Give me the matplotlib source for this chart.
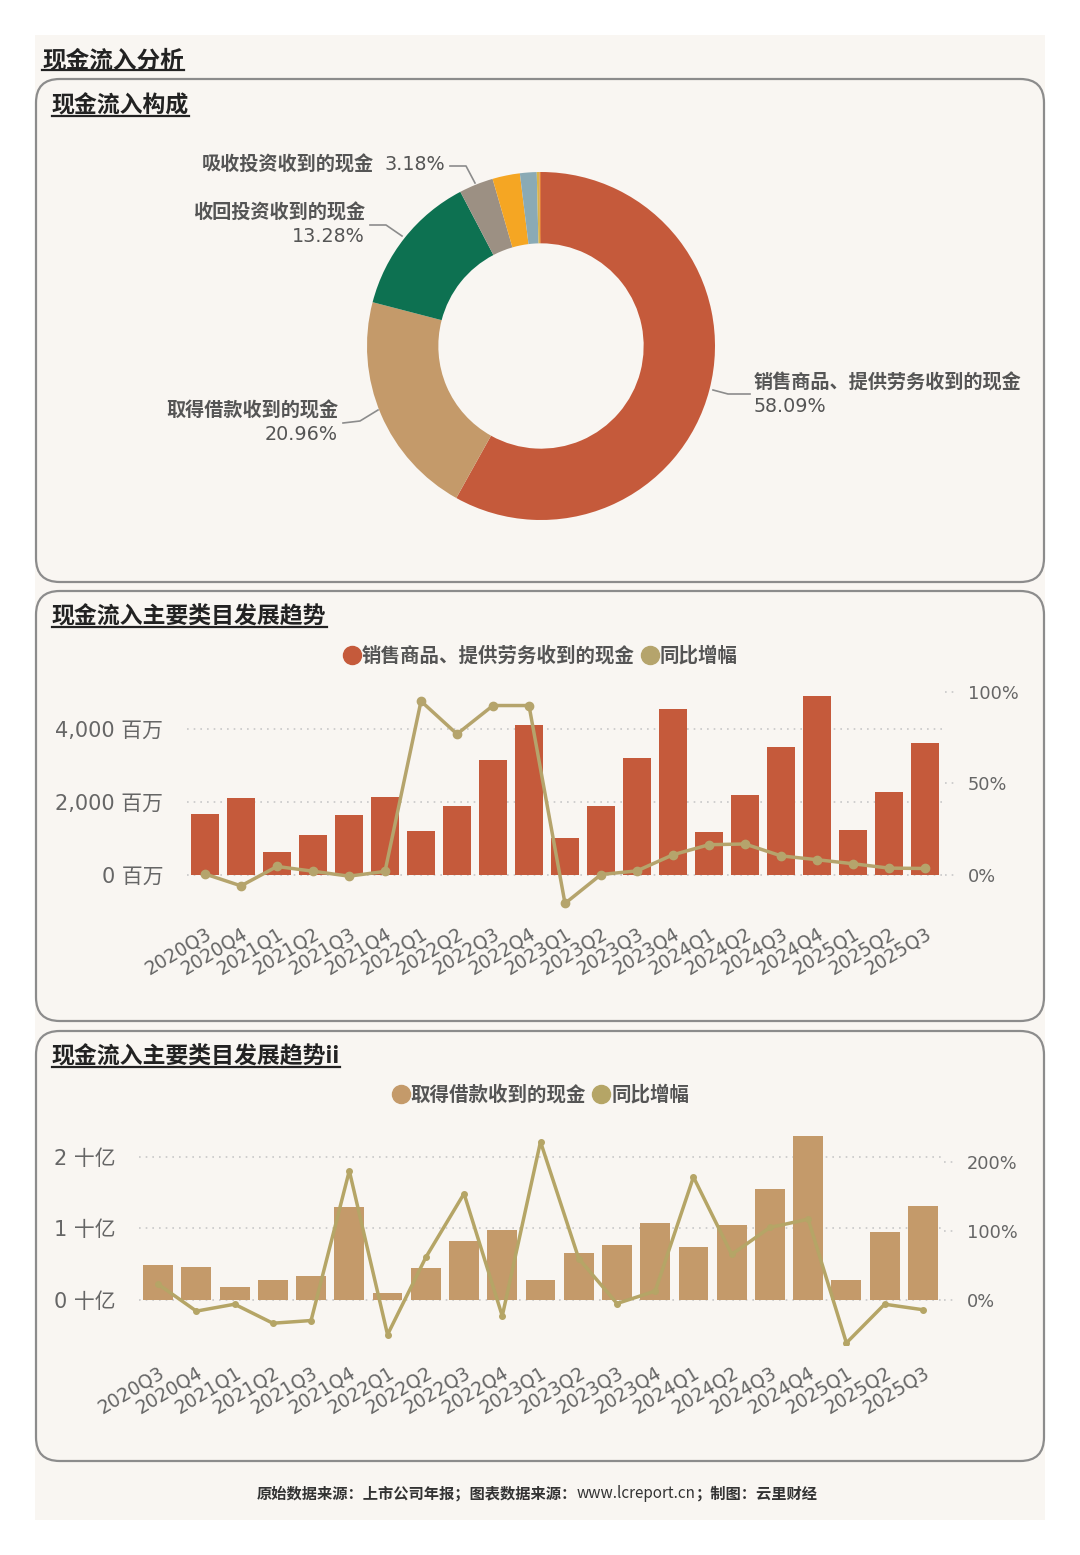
import matplotlib
matplotlib.use("Agg")
import matplotlib.pyplot as plt
import numpy as np
from matplotlib.patches import FancyBboxPatch, Rectangle
from matplotlib.lines import Line2D
from matplotlib.ticker import FuncFormatter

plt.rcParams['font.family'] = ['DejaVu Sans', 'Noto Sans CJK SC']

W, H = 1080, 1555
CJK = ['Noto Sans CJK SC', 'DejaVu Sans']

# data
quarters = ['2020Q3', '2020Q4', '2021Q1', '2021Q2', '2021Q3', '2021Q4', '2022Q1',
            '2022Q2', '2022Q3', '2022Q4', '2023Q1', '2023Q2', '2023Q3', '2023Q4',
            '2024Q1', '2024Q2', '2024Q3', '2024Q4', '2025Q1', '2025Q2', '2025Q3']
# 销售商品、提供劳务收到的现金, 百万
sales = [1666, 2105, 613, 1089, 1638, 2142, 1190, 1895, 3130, 4100, 998,
         1895, 3185, 4531, 1172, 2197, 3487, 4888, 1227, 2270, 3606]
sales_yoy = [0.5, -6.0, 4.6, 2.0, -0.7, 1.9, 95.0, 77.0, 92.6, 92.6, -15.6,
             0.2, 2.2, 11.0, 16.5, 16.9, 10.4, 8.3, 6.1, 3.7, 3.5]
# 取得借款收到的现金, 十亿
loans = [0.486, 0.467, 0.187, 0.28, 0.336, 1.294, 0.098, 0.453, 0.827, 0.972, 0.276,
         0.664, 0.771, 1.075, 0.743, 1.051, 1.547, 2.299, 0.285, 0.944, 1.313]
loans_yoy = [23, -16, -6, -33.5, -29.6, 187, -50, 61.7, 154, -23, 229,
             60, -5, 13, 178, 66, 105, 117, -62, -6, -14]

pie_names = ['销售商品、提供劳务收到的现金', '取得借款收到的现金', '收回投资收到的现金',
             '吸收投资收到的现金', '其他1', '其他2', '其他3', '其他4']
pie_values = [58.09, 20.96, 13.28, 3.18, 2.55, 1.55, 0.25, 0.14]
pie_colors = ['#C55A3B', '#C49A6A', '#0D7151', '#9C9083', '#F5A623', '#8AAAB5',
              '#D9B44A', '#E07A3B']


def fx(x):
    return x / W


def fy(y):
    return 1 - y / H


def rect(x0, y0, x1, y1):
    return [fx(x0), fy(y1), (x1 - x0) / W, (y1 - y0) / H]


fig = plt.figure(figsize=(W / 100, H / 100), dpi=100)
fig.patch.set_facecolor('white')
fig.add_artist(Rectangle((fx(35), fy(1520)), (1045 - 35) / W, (1520 - 35) / H,
                         transform=fig.transFigure, facecolor='#F9F6F2', edgecolor='none', zorder=0))

for y0, y1 in [(79, 582), (591, 1021), (1031, 1461)]:
    fig.add_artist(FancyBboxPatch((fx(36), fy(y1)), (1044 - 36) / W, (y1 - y0) / H,
                                  boxstyle='round,pad=0,rounding_size=0.022',
                                  mutation_aspect=W / H,
                                  transform=fig.transFigure, facecolor='none',
                                  edgecolor='#8C8C8C', lw=1.6, zorder=1))

renderer = fig.canvas.get_renderer()
inv = fig.transFigure.inverted()


def title(x, y, s, size):
    t = fig.text(fx(x), fy(y), s, fontsize=size, fontweight='bold', color='#222222',
                 ha='left', va='center', family=CJK)
    bb = t.get_window_extent(renderer=renderer).transformed(inv)
    fig.add_artist(Line2D([bb.x0, bb.x1], [bb.y0 + 0.0012, bb.y0 + 0.0012],
                          transform=fig.transFigure, color='#222222', lw=1.6))


title(42, 60, '现金流入分析', 17)
title(52, 106, '现金流入构成', 16.5)
title(52, 617, '现金流入主要类目发展趋势', 16.5)
title(52, 1057, '现金流入主要类目发展趋势ii', 16.5)

# donut
pax = fig.add_axes(rect(367, 172, 715, 520))
pax.pie(pie_values, colors=pie_colors, startangle=90, counterclock=False,
        wedgeprops=dict(width=0.41, edgecolor='none'))
pax.set_xlim(-1, 1)
pax.set_ylim(-1, 1)
pax.set_aspect('equal')
pax.axis('off')


def leader(pts):
    fig.add_artist(Line2D([fx(p[0]) for p in pts], [fy(p[1]) for p in pts],
                          transform=fig.transFigure, color='#8C8C8C', lw=1.2))


lab_col = '#555555'
PS = 13.8


def name(x, y, s, ha):
    fig.text(fx(x), fy(y), s, fontsize=PS, color=lab_col, ha=ha, va='center',
             family=CJK, fontweight='bold')


def pct(x, y, s, ha):
    fig.text(fx(x), fy(y), s, fontsize=PS, color=lab_col, ha=ha, va='center')


leader([(713, 390), (728, 394), (750, 394)])
name(754, 383, pie_names[0], 'left')
pct(754, 407, '58.09%', 'left')

leader([(378, 410), (360, 421), (343, 423)])
name(338, 411, pie_names[1], 'right')
pct(338, 435, '20.96%', 'right')

leader([(402, 236), (386, 225), (370, 225)])
name(365, 213, pie_names[2], 'right')
pct(365, 236, '13.28%', 'right')

leader([(475, 183), (466, 166), (450, 166)])
name(374, 165, pie_names[3], 'right')
pct(445, 165, '3.18%', 'right')


def combo(r, vals, yoy, bar_color, line_color, llim, rlim, lticks, rticks, fmt, width, ms, pad):
    ax = fig.add_axes(r)
    ax.set_facecolor('none')
    x = np.arange(len(quarters))
    ax.bar(x, vals, width=width, color=bar_color, zorder=2)
    ax.set_xlim(-0.5, len(quarters) - 0.5)
    ax.set_ylim(*llim)
    ax.set_yticks(lticks)
    ax.yaxis.set_major_formatter(FuncFormatter(fmt))
    ax.grid(axis='y', linestyle=(0, (1, 3)), color='#C8C8C8', lw=1.2, zorder=0)
    ax.set_xticks(x)
    ax.set_xticklabels(quarters, rotation=31, ha='right', va='top', rotation_mode='anchor')
    ax.tick_params(axis='x', length=0, pad=pad, labelsize=13.5, labelcolor='#666666')
    ax.tick_params(axis='y', length=0, pad=17, labelsize=15, labelcolor='#666666')
    for s in ax.spines.values():
        s.set_visible(False)

    ax2 = ax.twinx()
    ax2.plot(x, yoy, color=line_color, lw=2.5, marker='o', ms=ms, zorder=3)
    ax2.set_ylim(*rlim)
    ax2.set_yticks(rticks)
    ax2.yaxis.set_major_formatter(FuncFormatter(lambda v, p: f'{v:.0f}%'))
    ax2.tick_params(axis='y', length=0, pad=18, labelsize=12.8, labelcolor='#666666')
    for s in ax2.spines.values():
        s.set_visible(False)
    tr = ax2.get_yaxis_transform()
    for t in rticks:
        ax2.plot([1.003, 1.018], [t, t], transform=tr, clip_on=False,
                 linestyle=(0, (1, 3)), color='#C8C8C8', lw=1.2)
    return ax, ax2


combo(rect(187, 692, 943, 910), sales, sales_yoy, '#C55A3B', '#B5A46C',
      (-960, 5000), (-19.2, 100), [0, 2000, 4000], [0, 50, 100],
      lambda v, p: f'{v:,.0f} 百万', 0.76, 6, 10)

combo(rect(139, 1130, 942, 1345), loans, loans_yoy, '#C49A6A', '#B5A566',
      (-0.63, 2.378), (-65, 246), [0, 1, 2], [0, 100, 200],
      lambda v, p: f'{v:.0f} 十亿', 0.78, 4, 13)


def legend(y, items):
    handles = [Line2D([], [], marker='o', linestyle='none', color=c, ms=13) for _, c in items]
    fig.legend(handles, [n for n, _ in items], loc='center', bbox_to_anchor=(0.5, fy(y)),
               bbox_transform=fig.transFigure, ncol=len(items), frameon=False,
               handletextpad=0.0, columnspacing=0.3, handlelength=1.0,
               prop=dict(family=CJK, size=14, weight='bold'), labelcolor='#555555')


legend(656, [('销售商品、提供劳务收到的现金', '#C55A3B'), ('同比增幅', '#B5A46C')])
legend(1095, [('取得借款收到的现金', '#C49A6A'), ('同比增幅', '#B5A566')])

# footer, url in regular weight
parts = [('原始数据来源：上市公司年报；图表数据来源：', 'bold'), ('www.lcreport.cn', 'normal'),
         ('；制图：云里财经', 'bold')]
texts = []
for s, wgt in parts:
    t = fig.text(0, fy(1494), s, ha='left', va='center', fontsize=11, fontweight=wgt,
                 color='#333333', family=CJK)
    texts.append(t)
widths = [t.get_window_extent(renderer=renderer).width for t in texts]
x0 = 537 - sum(widths) / 2
for t, w in zip(texts, widths):
    t.set_x(fx(x0))
    x0 += w

fig.savefig('out.png', dpi=100, facecolor=fig.get_facecolor())
